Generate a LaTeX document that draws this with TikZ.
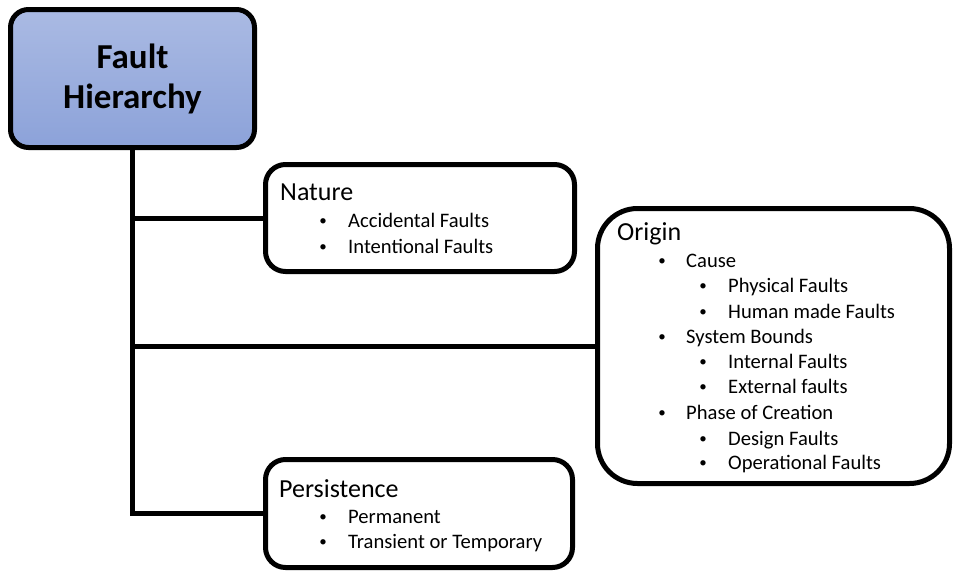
\documentclass[tikz,border=0pt]{standalone}
\usepackage{fontspec}
\setmainfont{Carlito}
\begin{document}
\begin{tikzpicture}[x=1pt,y=-1pt,
  box/.style={draw=black,line width=5pt,fill=white,rectangle,inner sep=0pt},
  rootbox/.style={box,rounded corners=18pt,top color=rootTop,bottom color=rootBottom},
  conn/.style={draw=black,line width=5pt},
  head/.style={anchor=base west,inner sep=0pt,font=\fontsize{26}{30}\selectfont},
  dot/.style={anchor=base,inner sep=0pt,font=\fontsize{15}{18}\selectfont,yshift=1.5pt},
  itemtext/.style={anchor=base west,inner sep=0pt,font=\fontsize{20.6}{25}\selectfont}]
\definecolor{rootTop}{HTML}{AABAE3}
\definecolor{rootBottom}{HTML}{8CA2D9}
\useasboundingbox (0,0) rectangle (955,570);

% boxes (outer edges minus half the border)
\node[rootbox,minimum width=244pt,minimum height=138pt] (root) at (132.5,78.5) {};
\node[box,rounded corners=20pt,minimum width=309pt,minimum height=107pt] (nat) at (420,218) {};
\node[box,rounded corners=40pt,minimum width=352pt,minimum height=275pt] (orig) at (773.5,346) {};
\node[box,rounded corners=20pt,minimum width=307pt,minimum height=108pt] (pers) at (419,513.5) {};

% tree connectors
\draw[conn] (root.south) |- (pers.west);
\draw[conn] (root.south |- nat.west) -- (nat.west);
\draw[conn] (root.south |- orig.west) -- (orig.west);

% title
\node[inner sep=0pt,align=center,font=\bfseries\fontsize{35}{40}\selectfont] (title) at (root.center) {Fault\\Hierarchy};

% Nature
\node[head] (natH) at (280,200) {Nature};
\node[dot] (natD1) at (323,227) {•};
\node[itemtext] (natT1) at (348,227) {Accidental Faults};
\node[dot] (natD2) at (323,253) {•};
\node[itemtext] (natT2) at (348,253) {Intentional Faults};

% Origin
\node[head] (origH) at (617,240) {Origin};
\node[dot] (oD1) at (662,267) {•};
\node[itemtext] (oT1) at (686,267) {Cause};
\node[dot] (oD2) at (703,292) {•};
\node[itemtext] (oT2) at (728,292) {Physical Faults};
\node[dot] (oD3) at (703,318) {•};
\node[itemtext] (oT3) at (728,318) {Human made Faults};
\node[dot] (oD4) at (662,343) {•};
\node[itemtext] (oT4) at (686,343) {System Bounds};
\node[dot] (oD5) at (703,368) {•};
\node[itemtext] (oT5) at (728,368) {Internal Faults};
\node[dot] (oD6) at (703,393) {•};
\node[itemtext] (oT6) at (728,393) {External faults};
\node[dot] (oD7) at (662,419) {•};
\node[itemtext] (oT7) at (686,419) {Phase of Creation};
\node[dot] (oD8) at (703,445) {•};
\node[itemtext] (oT8) at (728,445) {Design Faults};
\node[dot] (oD9) at (703,469) {•};
\node[itemtext] (oT9) at (728,469) {Operational Faults};

% Persistence
\node[head] (persH) at (279,497) {Persistence};
\node[dot] (pD1) at (323,523) {•};
\node[itemtext] (pT1) at (348,523) {Permanent};
\node[dot] (pD2) at (323,548) {•};
\node[itemtext] (pT2) at (348,548) {Transient or Temporary};
\end{tikzpicture}
\end{document}
